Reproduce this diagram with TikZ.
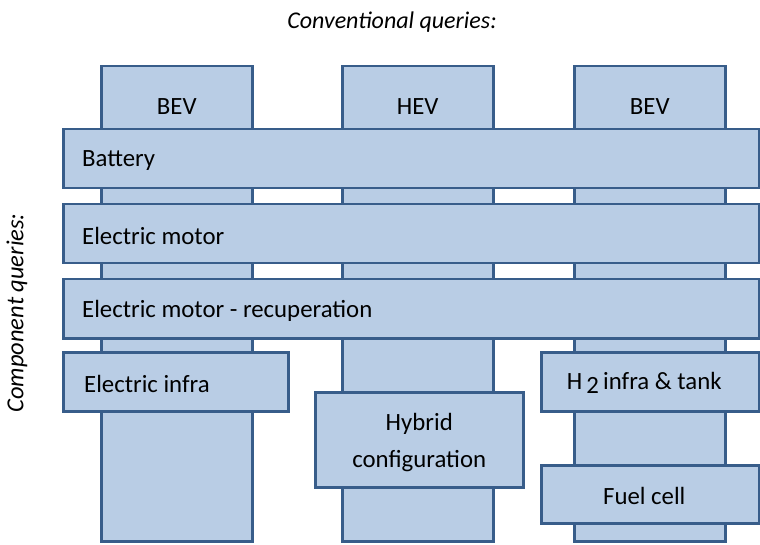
\documentclass[tikz,border=0pt]{standalone}
\usepackage{fontspec}
\setmainfont{Carlito}
\usetikzlibrary{positioning}
\definecolor{boxfill}{HTML}{B9CDE5}
\definecolor{boxline}{HTML}{385D8A}
\tikzset{
  qbox/.style={draw=boxline, fill=boxfill, line width=2.5pt, anchor=north west, inner sep=0pt},
  column/.style={qbox, minimum width=151pt, minimum height=475pt},
  bar/.style={qbox, minimum height=59pt},
  lbl/.style={inner sep=0pt, font=\fontsize{24.8}{37}\selectfont},
}
\begin{document}
\begin{tikzpicture}[x=1pt, y=-1pt]
  \useasboundingbox (0,0) rectangle (760,545);
  % vehicle columns
  \foreach \x/\t/\n in {100/BEV/bevA, 341/HEV/hev, 573/BEV/bevB} {
    \node[column] (\n) at (\x,65) {};
    \node[lbl] (\n-t) at ([yshift=-42pt]\n.north) {\t};
  }
  % component bars
  \node[bar, minimum width=696pt] (battery) at (62,128) {};
  \node[bar, minimum width=696pt] (motor) at (62,203) {};
  \node[bar, minimum width=696pt] (recup) at (62,278) {};
  \node[bar, minimum width=225pt] (elinfra) at (62,351) {};
  \node[bar, minimum width=218pt] (htank) at (540,351) {};
  \node[qbox, minimum width=208pt, minimum height=95pt] (hybrid) at (314,391) {};
  \node[bar, minimum width=218pt, minimum height=58pt] (fuelcell) at (540,464) {};
  \node[lbl, right=20pt of battery.west, yshift=-2pt] (battery-t) {Battery};
  \node[lbl, right=20pt of motor.west, yshift=-2pt] (motor-t) {Electric motor};
  \node[lbl, right=20pt of recup.west, yshift=-2pt] (recup-t) {Electric motor - recuperation};
  \node[lbl, right=22pt of elinfra.west, yshift=-2pt] (elinfra-t) {Electric infra};
  \node[lbl] (htank-t) at ([xshift=-6pt, yshift=-1pt]htank.center) {H\,\raisebox{-0.3ex}{2}\,infra \& tank};
  \node[lbl, align=center] (hybrid-t) at ([yshift=-3pt]hybrid.center) {Hybrid\\configuration};
  \node[lbl] (fuelcell-t) at ([xshift=-6pt, yshift=-2pt]fuelcell.center) {Fuel cell};
  % axis captions
  \node[lbl, font=\fontsize{24}{28}\selectfont\itshape] (conv) at (392,22) {Conventional queries:};
  \node[lbl, font=\fontsize{24.5}{28}\selectfont\itshape, rotate=90] (comp) at (17,313) {Component queries:};
\end{tikzpicture}
\end{document}
